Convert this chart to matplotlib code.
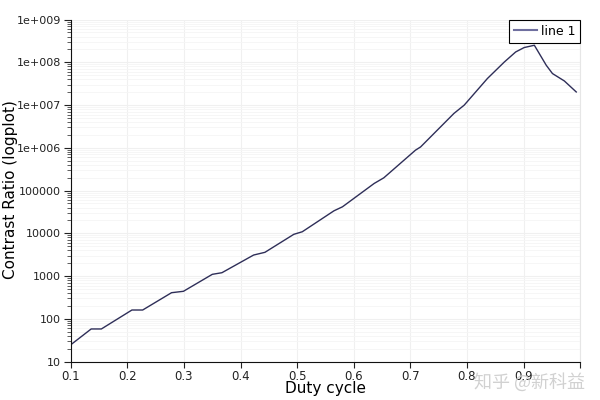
import numpy as np
import matplotlib
matplotlib.use("Agg")
import matplotlib.pyplot as plt
from matplotlib.ticker import LogLocator, NullFormatter

# Data
duty = [0.102, 0.136, 0.154, 0.208, 0.227, 0.278, 0.299, 0.350, 0.367,
        0.423, 0.443, 0.494, 0.509, 0.565, 0.580, 0.636, 0.653, 0.709,
        0.718, 0.777, 0.795, 0.836, 0.866, 0.886, 0.901, 0.919, 0.940,
        0.951, 0.972, 0.993]
contrast = [26, 58, 58, 161, 161, 409, 441, 1100, 1200,
            3110, 3600, 9490, 10900, 33700, 41800, 147000, 199000, 883000,
            1.05e6, 6.4e6, 9.96e6, 4.18e7, 1.02e8, 1.75e8, 2.22e8, 2.51e8, 8.55e7,
            5.47e7, 3.67e7, 2.03e7]

y_ticks = [1e1, 1e2, 1e3, 1e4, 1e5, 1e6, 1e7, 1e8, 1e9]
y_labels = ["10", "100", "1000", "10000", "100000",
            "1e+006", "1e+007", "1e+008", "1e+009"]
x_ticks = [0.1, 0.2, 0.3, 0.4, 0.5, 0.6, 0.7, 0.8, 0.9, 1.0]
x_labels = ["0.1", "0.2", "0.3", "0.4", "0.5", "0.6", "0.7", "0.8", "0.9", ""]

plt.rcParams['font.family'] = ['DejaVu Sans', 'Noto Sans CJK SC']

fig = plt.figure(figsize=(6, 4), dpi=100)
ax = fig.add_axes([0.118, 0.096, 0.849, 0.855])

ax.plot(duty, contrast, color="#2e2e58", lw=1.0, label="line 1")
ax.set_yscale("log")
ax.set_xlim(0.1, 1.0)
ax.set_ylim(10, 1e9)

ax.set_yticks(y_ticks)
ax.set_yticklabels(y_labels)
ax.yaxis.set_minor_locator(LogLocator(base=10, subs=np.arange(2, 10)))
ax.yaxis.set_minor_formatter(NullFormatter())
ax.set_xticks(x_ticks)
ax.set_xticklabels(x_labels)

ax.tick_params(axis="y", which="major", labelsize=8, length=5, width=0.8,
               colors="#222222", pad=2)
ax.tick_params(axis="x", which="major", labelsize=8.5, length=4, width=0.8,
               colors="#222222", pad=2)
ax.tick_params(axis="y", which="minor", length=3, width=0.6, color="#444444")

ax.grid(True, which="major", color="#f0f0f0", lw=0.8)
ax.grid(True, which="minor", axis="y", color="#f5f5f5", lw=0.6)

ax.spines["top"].set_visible(False)
ax.spines["right"].set_color("#e6e6e6")
ax.spines["left"].set_color("#111111")
ax.spines["bottom"].set_color("#111111")

ax.set_xlabel("Duty cycle", fontsize=11)
ax.set_ylabel("Contrast Ratio (logplot)", fontsize=11)
ax.xaxis.set_label_coords(0.5, -0.058)
ax.yaxis.set_label_coords(-0.104, 0.502)

leg = ax.legend(loc="upper right", bbox_to_anchor=(1.0, 1.0), borderaxespad=0,
                fancybox=False, fontsize=9, handlelength=1.8, handletextpad=0.3,
                borderpad=0.4, framealpha=1)
leg.get_frame().set_edgecolor("black")
leg.get_frame().set_linewidth(0.8)
leg.get_lines()[0].set_color("#6f6f9f")
leg.get_lines()[0].set_linewidth(1.5)

# watermark
fig.text(0.79, 0.03, "知乎 @新科益", fontsize=13, color="#cccccc",
         family=['Noto Sans CJK SC', 'DejaVu Sans'], alpha=0.9)

fig.savefig("out.png", dpi=100)
